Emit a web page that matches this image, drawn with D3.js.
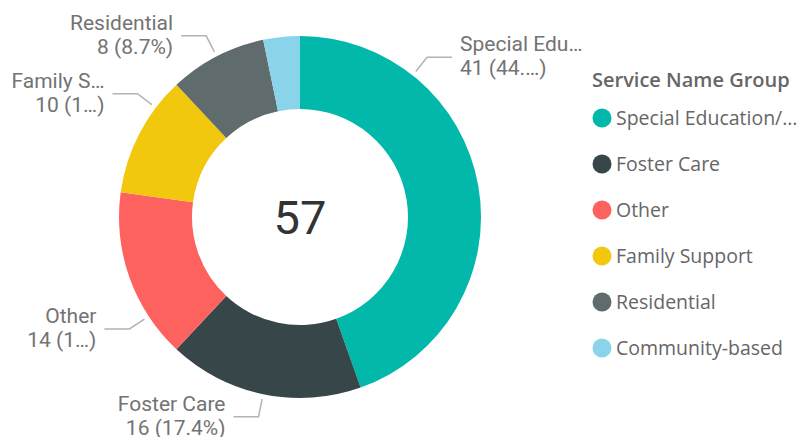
<!DOCTYPE html>
<html>
<head>
<meta charset="utf-8">
<script src="https://cdn.jsdelivr.net/npm/d3@7"></script>
<style>
  body { margin: 0; background: #fff; }
  svg { display: block; }
</style>
</head>
<body>
<script>

var width = 808,
	height = 437;

// data
var categories = ['Special Education/…', 'Foster Care', 'Other', 'Family Support', 'Residential', 'Community-based'];
var values = [41, 16, 14, 10, 8, 3];
var colors = ['#01B8AA', '#374649', '#FD625E', '#F2C80F', '#5F6B6D', '#8AD4EB'];
var labelNames = ['Special Edu…', 'Foster Care', 'Other', 'Family S…', 'Residential', null];
var labelValues = ['41 (44.…)', '16 (17.4%)', '14 (1…)', '10 (1…)', '8 (8.7%)', null];
var centerText = '57';
var legendTitle = 'Service Name Group';

// where along each slice the leader line starts (fraction of the slice)
var labelFrac = [0.24, 0.5, 0.25, 0.75, 0.5, 0.5];

var cx = 300, cy = 217,
	outer = 181, inner = 108;

var svg = d3.select('body').append('svg')
	.attr('width', width)
	.attr('height', height);

var g = svg.append('g').attr('transform', 'translate(' + cx + ',' + cy + ')');

var pie = d3.pie().sort(null).value(function(d){ return d; });
var arcs = pie(values);

var arc = d3.arc().innerRadius(inner).outerRadius(outer);

g.selectAll('.slice')
	.data(arcs)
	.enter().append('path').classed('slice', true)
	.attr('d', arc)
	.attr('fill', function(d, i){ return colors[i]; });

g.append('text')
	.attr('x', 0)
	.attr('y', 17)
	.attr('text-anchor', 'middle')
	.style('font-family', 'Roboto, sans-serif')
	.style('font-size', '47px')
	.style('fill', '#333')
	.text(centerText);

// leader lines + labels
function polar(a, r){
	return [r * Math.sin(a), -r * Math.cos(a)];
}

arcs.forEach(function(d, i){
	if (!labelNames[i]) return;
	var a = d.startAngle + (d.endAngle - d.startAngle) * labelFrac[i];
	var p0 = polar(a, outer + 5);
	var p1 = polar(a, outer + 23);
	var side = Math.sin(a) >= 0 ? 1 : -1;
	var p2 = [p1[0] + side * 25, p1[1]];

	g.append('polyline')
		.attr('points', [p0, p1, p2].map(function(p){ return p.join(','); }).join(' '))
		.attr('fill', 'none')
		.attr('stroke', '#b3b3b3')
		.attr('stroke-width', 1.5);

	var t = g.append('text')
		.attr('text-anchor', side > 0 ? 'start' : 'end')
		.style('font-family', 'Roboto, sans-serif')
		.style('font-size', '21px')
		.style('fill', '#737373');
	t.append('tspan')
		.attr('x', p2[0] + side * 8)
		.attr('y', p2[1] - 6)
		.text(labelNames[i]);
	t.append('tspan')
		.attr('x', p2[0] + side * 8)
		.attr('y', p2[1] + 18)
		.text(labelValues[i]);
});

// legend
var legend = svg.append('g').attr('transform', 'translate(592,0)');

legend.append('text')
	.attr('x', 0)
	.attr('y', 87)
	.style('font-family', '"Open Sans", sans-serif')
	.style('font-weight', 600)
	.style('font-size', '20px')
	.style('fill', '#666')
	.text(legendTitle);

var item = legend.selectAll('.item')
	.data(categories)
	.enter().append('g').classed('item', true)
	.attr('transform', function(d, i){ return 'translate(0,' + (118 + i * 46) + ')'; });

item.append('circle')
	.attr('cx', 10)
	.attr('cy', 0)
	.attr('r', 9.5)
	.attr('fill', function(d, i){ return colors[i]; });

item.append('text')
	.attr('x', 24)
	.attr('y', 7)
	.style('font-family', '"Open Sans", sans-serif')
	.style('font-size', '19.5px')
	.style('fill', '#666')
	.text(function(d){ return d; });

</script>
</body>
</html>
